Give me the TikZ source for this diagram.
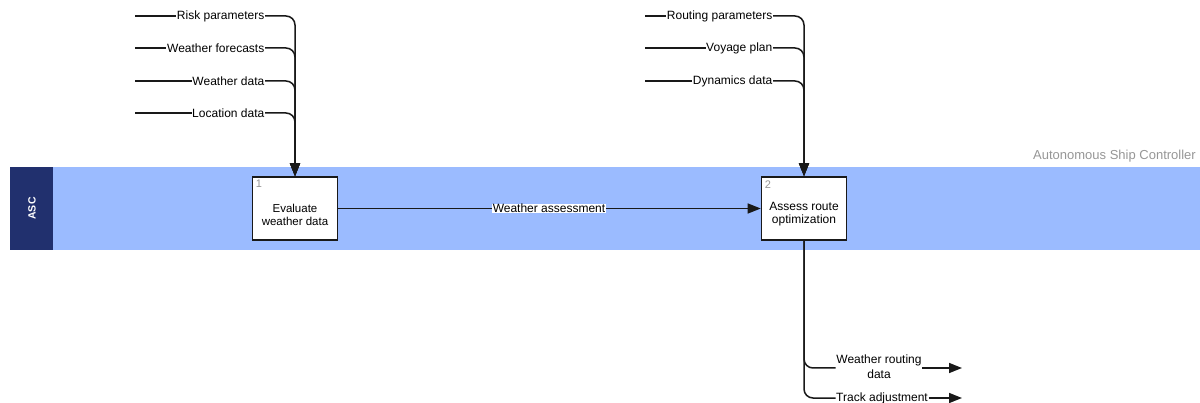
\documentclass[tikz,border=0pt]{standalone}
\usepackage{fontspec}
\setmainfont{Liberation Sans}
\usetikzlibrary{arrows.meta}
\definecolor{lanefill}{RGB}{155,187,255}
\definecolor{lanehead}{RGB}{33,48,110}
\definecolor{lanetext}{RGB}{150,150,150}
\definecolor{ink}{RGB}{25,25,25}
\tikzset{
  flow/.style={draw=ink, line width=1.5pt},
  flowarrow/.style={flow, -{Triangle[length=13pt,width=10pt]}},
  procbox/.style={draw=ink, line width=1.6pt, fill=white, minimum width=85pt,
    minimum height=63pt, inner sep=0pt},
  boxtext/.style={align=center, inner sep=0pt, font=\fontsize{11.5}{13}\selectfont},
  boxnum/.style={text=lanetext, font=\fontsize{11}{12}\selectfont, inner sep=0pt},
  flowlabel/.style={fill=white, inner sep=0.5pt, font=\fontsize{12}{15}\selectfont, align=center},
}
\begin{document}
\begin{tikzpicture}[x=1pt,y=-1pt]
\useasboundingbox (0,0) rectangle (1200,403);

% swimlane
\fill[lanefill] (10,167) rectangle (1200,250);
\fill[lanehead] (10,167) rectangle (53,250);
\node[rotate=90, text=white, font=\bfseries\fontsize{10.5}{11}\selectfont] (lanename) at (32,208.5) {ASC};
\node[anchor=east, text=lanetext, font=\fontsize{13}{14}\selectfont, inner sep=0pt] (lanetitle) at (1196,156) {Autonomous Ship Controller};

% activities
\node[procbox] (p1) at (295,208.5) {};
\node[boxtext] (t1) at ([yshift=-6pt]p1.center) {Evaluate\\weather data};
\node[boxnum, anchor=north west] (n1) at ([xshift=4pt,yshift=-4pt]p1.north west) {1};
\node[procbox] (p2) at (804,208.5) {};
\node[boxtext, font=\fontsize{12}{13}\selectfont] (t2) at ([yshift=-6pt]p2.center) {Assess route\\optimization};
\node[boxnum, anchor=north west] (n2) at ([xshift=4pt,yshift=-4pt]p2.north west) {2};

% inputs to activity 1
\foreach \lbl/\yy/\nm in {Risk parameters/16/a, Weather forecasts/48/b, Weather data/81/c, Location data/113/d}{
  \coordinate (s\nm) at (135,\yy);
  \node[flowlabel, anchor=east] (l\nm) at (265,\yy) {\lbl};
  \draw[flow] (s\nm) -- (l\nm.west);
  \draw[flowarrow, rounded corners=9pt] (l\nm.east) -- (295,\yy) -- (p1.north);
}

% inputs to activity 2
\foreach \lbl/\yy/\nm in {Routing parameters/16/e, Voyage plan/48/f, Dynamics data/81/g}{
  \coordinate (s\nm) at (645,\yy);
  \node[flowlabel, anchor=east] (l\nm) at (773,\yy) {\lbl};
  \draw[flow] (s\nm) -- (l\nm.west);
  \draw[flowarrow, rounded corners=9pt] (l\nm.east) -- (804,\yy) -- (p2.north);
}

% flow between activities
\node[flowlabel] (wa) at (549,208.5) {Weather assessment};
\draw[flow] (p1.east) -- (wa.west);
\draw[flowarrow] (wa.east) -- (p2.west);

% outputs of activity 2
\node[flowlabel] (wr) at (879,367) {Weather routing\\data};
\node[flowlabel] (ta) at (882,398) {Track adjustment};
\coordinate (ewr) at (962,368);
\coordinate (eta) at (962,398);
\draw[flow, rounded corners=9pt] (p2.south) -- (804,368) -- (wr.west |- 0,368);
\draw[flow, rounded corners=9pt] (p2.south) -- (804,398) -- (ta.west);
\draw[flowarrow] (wr.east |- ewr) -- (ewr);
\draw[flowarrow] (ta.east) -- (eta);
\end{tikzpicture}
\end{document}
